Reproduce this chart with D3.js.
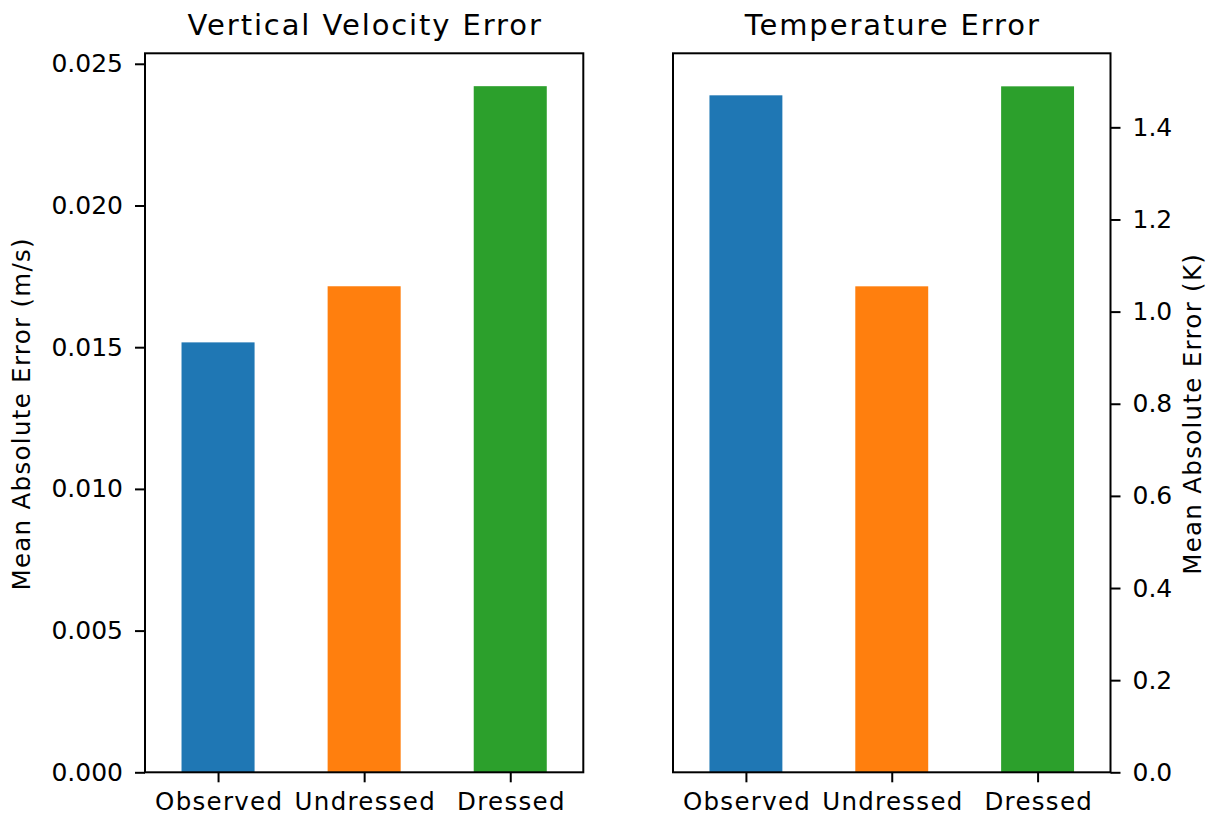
<!DOCTYPE html>
<html>
<head>
<meta charset="utf-8">
<script src="https://cdn.jsdelivr.net/npm/d3@7"></script>
<style>
  body { margin: 0; background: #fff; }
  text { font-family: "DejaVu Sans", sans-serif; fill: #000; }
</style>
</head>
<body>
<div id="container"></div>
<script>
/* DATA */
const categories = ["Observed", "Undressed", "Dressed"];
const colors = ["#1f77b4", "#ff7f0e", "#2ca02c"];
const velocityError = [0.01517, 0.01715, 0.02421];
const temperatureError = [1.4695, 1.0549, 1.489];
const velocityTicks = [0, 0.005, 0.010, 0.015, 0.020, 0.025];
const temperatureTicks = [0, 0.2, 0.4, 0.6, 0.8, 1.0, 1.2, 1.4];

/* CONSTANTS */
const width = 1212, height = 816;
const plotTop = 53.3, plotBottom = 772.3;
const numSize = 25, labelSize = 24.5, titleSize = 29;

const svg = d3.select("#container")
  .append("svg")
  .attr("width", width)
  .attr("height", height);

function drawPanel(opts) {
  const { left, right, values, ymax, ticks, fmt, title, ylabel, side } = opts;

  const x = d3.scaleLinear().domain([-0.5, 2.5]).range([left, right]);
  const y = d3.scaleLinear().domain([0, ymax]).range([plotBottom, plotTop]);

  const g = svg.append("g");

  // BARS
  g.selectAll("rect")
    .data(values)
    .enter()
    .append("rect")
    .attr("x", (d, i) => x(i - 0.25))
    .attr("width", (d, i) => x(i + 0.25) - x(i - 0.25))
    .attr("y", d => y(d))
    .attr("height", d => y(0) - y(d))
    .attr("fill", (d, i) => colors[i]);

  // Y AXIS
  const yAxis = (side === "left" ? d3.axisLeft(y) : d3.axisRight(y))
    .tickValues(ticks)
    .tickFormat(fmt)
    .tickSize(10)
    .tickPadding(12);
  const ya = g.append("g")
    .attr("transform", `translate(${side === "left" ? left : right},0)`)
    .call(yAxis);

  // X AXIS
  const xAxis = d3.axisBottom(x)
    .tickValues([0, 1, 2])
    .tickFormat(i => categories[i])
    .tickSize(10)
    .tickPadding(10);
  const xa = g.append("g")
    .attr("transform", `translate(0,${plotBottom})`)
    .call(xAxis);

  [ya, xa].forEach(a => {
    a.select(".domain").remove();
    a.selectAll("line").attr("stroke", "#000").attr("stroke-width", 2);
    a.selectAll("text")
      .style("font-family", "DejaVu Sans")
      .attr("fill", "#000");
  });
  ya.selectAll("text").style("font-size", numSize + "px");
  xa.selectAll("text")
    .style("font-size", labelSize + "px")
    .style("letter-spacing", "1.3px")
    .attr("dx", "0.65px");

  // FRAME
  g.append("rect")
    .attr("x", left)
    .attr("y", plotTop)
    .attr("width", right - left)
    .attr("height", plotBottom - plotTop)
    .attr("fill", "none")
    .attr("stroke", "#000")
    .attr("stroke-width", 2);

  // TITLE
  g.append("text")
    .attr("x", (left + right) / 2 + 1)
    .attr("y", 35)
    .attr("text-anchor", "middle")
    .style("font-size", titleSize + "px")
    .style("letter-spacing", "1.9px")
    .text(title);

  // Y LABEL
  const lx = side === "left" ? 21 : 1192;
  g.append("text")
    .attr("transform", `translate(${lx},${(plotTop + plotBottom) / 2 + 1}) rotate(-90)`)
    .attr("text-anchor", "middle")
    .attr("dominant-baseline", "central")
    .style("font-size", labelSize + "px")
    .style("letter-spacing", "1.3px")
    .text(ylabel);
}

drawPanel({
  left: 145, right: 583.3,
  values: velocityError,
  ymax: 0.02537,
  ticks: velocityTicks,
  fmt: d3.format(".3f"),
  title: "Vertical Velocity Error",
  ylabel: "Mean Absolute Error (m/s)",
  side: "left"
});

drawPanel({
  left: 673, right: 1110.5,
  values: temperatureError,
  ymax: 1.5607,
  ticks: temperatureTicks,
  fmt: d3.format(".1f"),
  title: "Temperature Error",
  ylabel: "Mean Absolute Error (K)",
  side: "right"
});
</script>
</body>
</html>
